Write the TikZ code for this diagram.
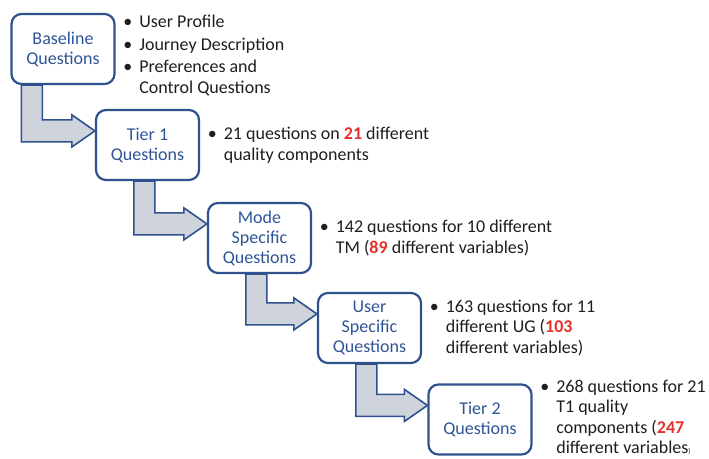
\documentclass[tikz,border=0pt]{standalone}
\usepackage{fontspec}
\setmainfont{Carlito}
\usetikzlibrary{positioning,backgrounds,calc}
\definecolor{boxblue}{HTML}{2F528F}
\definecolor{textblue}{HTML}{2F5597}
\definecolor{arrowgrey}{HTML}{CFD3DC}
\definecolor{numred}{HTML}{E8302A}
\definecolor{listblack}{HTML}{1E1E1E}
\newcommand{\rednum}[1]{\textcolor{numred}{\textbf{#1}}}
\newcommand{\bul}{\makebox[16pt][l]{\textbullet}}
\newcommand{\cont}{\hspace*{16pt}}
\tikzset{
	stagebox/.style={draw=boxblue,line width=2.2pt,rounded corners=10pt,fill=white,minimum width=103pt,minimum height=70pt,align=center,text=textblue,font=\fontsize{18}{20}\selectfont},
	bulletlist/.style={align=left,text=listblack,inner sep=0pt,font=\fontsize{18}{20.5}\selectfont},
	elbowarrow/.style={draw=boxblue,line width=1.6pt,fill=arrowgrey,line join=miter}
}

\begin{document}
\begin{tikzpicture}[x=1pt,y=-1pt]
	\useasboundingbox (0,0) rectangle (709,458);
	\node[stagebox] (baseline) at (63,49) {Baseline\\Questions};
	\node[stagebox] (tierone) at (147.5,145) {Tier 1\\Questions};
	\node[stagebox] (mode) at (259.5,238) {Mode\\Specific\\Questions};
	\node[stagebox] (user) at (369.5,328) {User\\Specific\\Questions};
	\node[stagebox] (tiertwo) at (480,419.5) {Tier 2\\Questions};

	\node[bulletlist,anchor=west,right=7.5pt of baseline,yshift=-6.5pt] (baselinelist) {\bul User Profile\\[2pt]\bul Journey Description\\[2pt]\bul Preferences and\\\cont Control Questions};
	\node[bulletlist,anchor=west,right=7.5pt of tierone] (tieronelist) {\bul 21 questions on \rednum{21} different\\\cont quality components};
	\node[bulletlist,anchor=west,right=7.5pt of mode] (modelist) {\bul 142 questions for 10 different\\\cont TM (\rednum{89} different variables)};
	\node[bulletlist,anchor=west,right=7.5pt of user] (userlist) {\bul 163 questions for 11\\\cont different UG (\rednum{103}\\\cont different variables)};
	\node[bulletlist,anchor=west,right=7.5pt of tiertwo,yshift=2pt] (tiertwolist) {\bul 268 questions for 21\\\cont T1 quality\\\cont components (\rednum{247}\\\cont different variables{\scriptsize )}};

	\begin{scope}[on background layer]
		\foreach \a/\b/\o in {baseline/tierone/11pt,tierone/mode/39pt,mode/user/39pt,user/tiertwo/39pt}
			\draw[elbowarrow] let \p1=(\a.south west), \p2=(\b.north west) in
				(\x1+\o,\y1) -- (\x1+\o,\y2-33pt) -- (\x2-23pt,\y2-33pt) -- (\x2-23pt,\y2-38pt) -- (\x2,\y2-22pt)
				-- (\x2-23pt,\y2-6pt) -- (\x2-23pt,\y2-11pt) -- (\x1+\o+21pt,\y2-11pt) -- (\x1+\o+21pt,\y1) -- cycle;
	\end{scope}
\end{tikzpicture}
\end{document}
